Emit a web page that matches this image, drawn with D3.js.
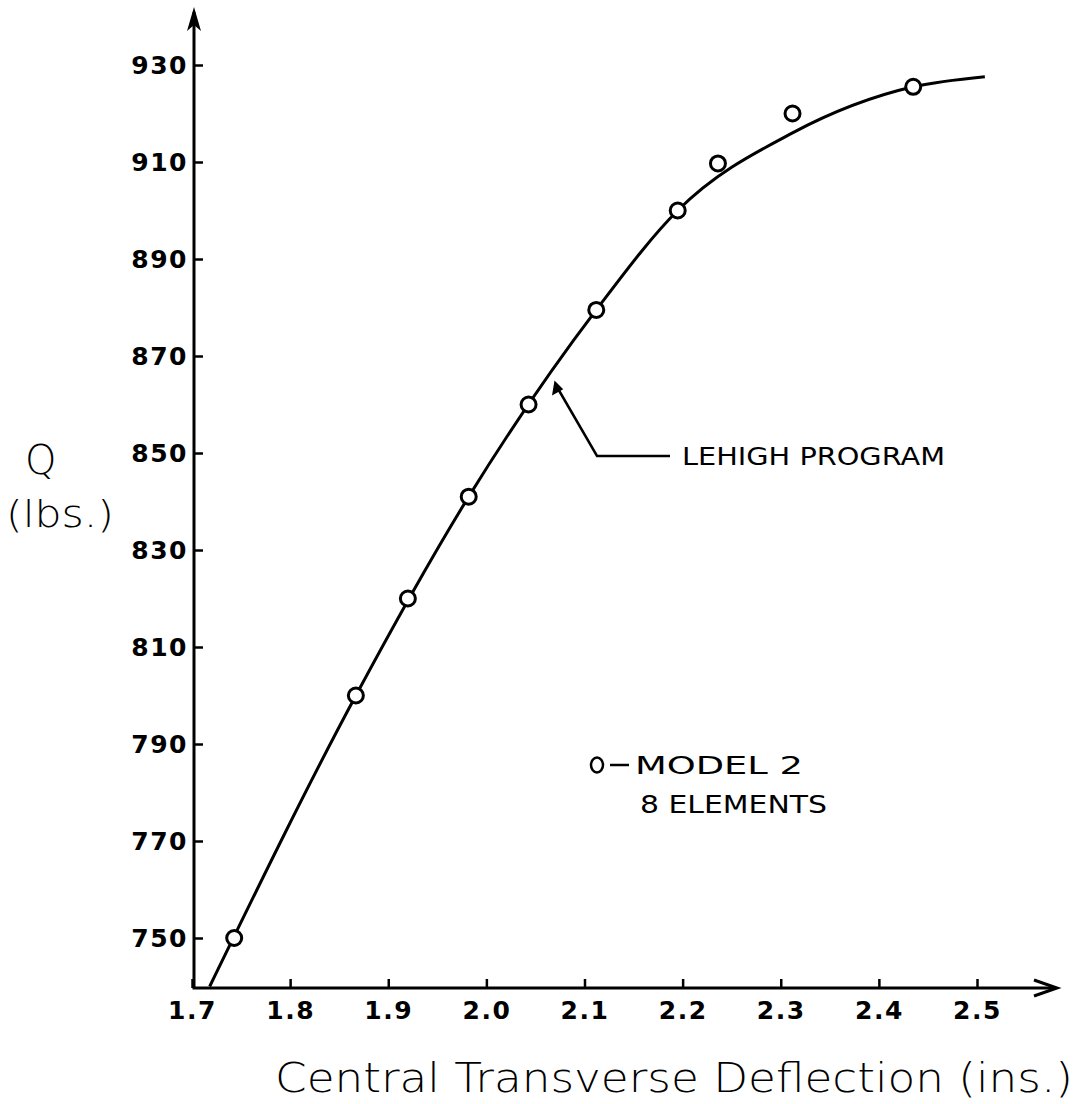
<!DOCTYPE html>
<html>
<head>
<meta charset="utf-8">
<script src="https://cdn.jsdelivr.net/npm/d3@7"></script>
<style>
  body { margin: 0; background: #fff; }
  svg text { fill: #000; font-family: "DejaVu Sans", sans-serif; }
  .tick text { font-weight: bold; font-size: 25px; letter-spacing: 1.5px; }
  .tick line { stroke: #000; stroke-width: 2.5; }
</style>
</head>
<body>
<div id="chart"></div>
<script>
// Lehigh program curve
var curveX = [1.718, 1.867, 1.982, 2.112, 2.195, 2.312, 2.435, 2.508];
var curveQ = [740, 800, 841, 879.5, 900, 916, 925.5, 927.6];

// Model 2, 8 elements points
var modelX = [1.743, 1.867, 1.920, 1.982, 2.043, 2.112, 2.195, 2.236, 2.312, 2.435];
var modelQ = [750, 800, 820, 841, 860, 879.5, 900, 909.7, 920, 925.5];

var xTicks = [1.7, 1.8, 1.9, 2.0, 2.1, 2.2, 2.3, 2.4, 2.5];
var yTicks = [750, 770, 790, 810, 830, 850, 870, 890, 910, 930];

var width = 1083, height = 1104;
var axisX = 194, axisY = 988;

var svg = d3.select("#chart").append("svg")
    .attr("width", width)
    .attr("height", height);

var x = d3.scaleLinear().domain([1.7, 2.5]).range([192, 977]);
var y = d3.scaleLinear().domain([750, 930]).range([938, 65]);

// axes (ticks point inward, domain drawn by hand with arrows)
var xAxis = d3.axisBottom(x).tickValues(xTicks).tickFormat(d3.format(".1f"))
    .tickSize(-8).tickPadding(13);
var yAxis = d3.axisLeft(y).tickValues(yTicks).tickFormat(d3.format("d"))
    .tickSize(-8).tickPadding(6);

var gX = svg.append("g").attr("transform", "translate(0," + axisY + ")").call(xAxis);
var gY = svg.append("g").attr("transform", "translate(" + axisX + ",0)").call(yAxis);
gX.select(".domain").remove();
gY.select(".domain").remove();
gX.selectAll(".tick line").attr("y2", -9);
gY.selectAll(".tick line").attr("x2", 9);

// axis lines
svg.append("line").attr("x1", axisX).attr("y1", axisY).attr("x2", axisX).attr("y2", 12)
    .attr("stroke", "#000").attr("stroke-width", 3);
svg.append("path").attr("d", "M194,7 L187,31 L194,25 L201,31 Z").attr("fill", "#000");

svg.append("line").attr("x1", axisX - 1.5).attr("y1", axisY).attr("x2", 1055).attr("y2", axisY)
    .attr("stroke", "#000").attr("stroke-width", 3);
svg.append("path").attr("d", "M1034,980 L1057,988 L1034,996")
    .attr("fill", "none").attr("stroke", "#000").attr("stroke-width", 3);

// curve
var curveData = curveX.map(function (d, i) { return { x: d, q: curveQ[i] }; });
var line = d3.line()
    .x(function (d) { return x(d.x); })
    .y(function (d) { return y(d.q); })
    .curve(d3.curveMonotoneX);

svg.append("path")
    .datum(curveData)
    .attr("d", line)
    .attr("fill", "none")
    .attr("stroke", "#000")
    .attr("stroke-width", 3);

// model points
var pts = modelX.map(function (d, i) { return { x: d, q: modelQ[i] }; });
svg.selectAll(".pt").data(pts).enter().append("circle")
    .attr("class", "pt")
    .attr("cx", function (d) { return x(d.x); })
    .attr("cy", function (d) { return y(d.q); })
    .attr("r", 7.5)
    .attr("fill", "#fff")
    .attr("stroke", "#000")
    .attr("stroke-width", 3);

// leader for LEHIGH PROGRAM
svg.append("path").attr("d", "M670,456 L597,456 L557,387")
    .attr("fill", "none").attr("stroke", "#000").attr("stroke-width", 2.5);
svg.append("path").attr("d", "M555,382 L553,394 L562,389 Z")
    .attr("fill", "#000").attr("stroke", "#000").attr("stroke-width", 1.5);

svg.append("text").attr("x", 682).attr("y", 465)
    .attr("textLength", 263).attr("lengthAdjust", "spacingAndGlyphs")
    .style("font-size", "24px")
    .text("LEHIGH  PROGRAM");

// legend note
svg.append("ellipse").attr("cx", 597).attr("cy", 765).attr("rx", 6).attr("ry", 7.5)
    .attr("fill", "none").attr("stroke", "#000").attr("stroke-width", 2.5);
svg.append("line").attr("x1", 610).attr("y1", 765).attr("x2", 629).attr("y2", 765)
    .attr("stroke", "#000").attr("stroke-width", 2.5);
svg.append("text").attr("x", 635).attr("y", 774)
    .attr("textLength", 168).attr("lengthAdjust", "spacingAndGlyphs")
    .style("font-size", "24px")
    .text("MODEL 2");
svg.append("text").attr("x", 640).attr("y", 813)
    .attr("textLength", 187).attr("lengthAdjust", "spacingAndGlyphs")
    .style("font-size", "24px")
    .text("8 ELEMENTS");

// axis titles
svg.append("text").attr("x", 25).attr("y", 474)
    .style("font-size", "40px").style("font-weight", "300")
    .text("Q");
svg.append("text").attr("x", 6).attr("y", 527)
    .attr("textLength", 108).attr("lengthAdjust", "spacingAndGlyphs")
    .style("font-size", "38px").style("font-weight", "300")
    .text("(lbs.)");

svg.append("text").attr("x", 275).attr("y", 1092)
    .attr("textLength", 798).attr("lengthAdjust", "spacingAndGlyphs")
    .style("font-size", "40px").style("font-weight", "300")
    .text("Central  Transverse  Deflection (ins.)");
</script>
</body>
</html>
